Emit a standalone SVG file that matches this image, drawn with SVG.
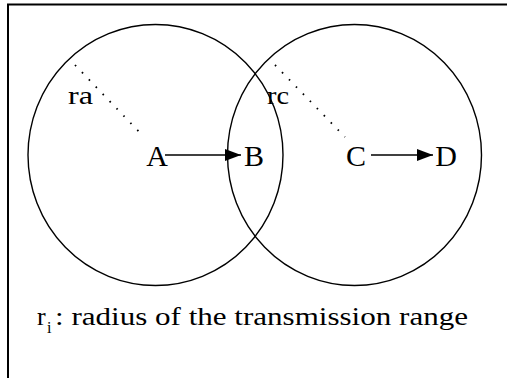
<svg xmlns="http://www.w3.org/2000/svg" width="507" height="378" viewBox="0 0 507 378">
<style>
.t{font-family:"Liberation Serif","Times New Roman",serif;fill:#000}
.c{fill:none;stroke:#000;stroke-width:1.4}
.d{stroke:#000;stroke-width:1.8;stroke-dasharray:1.6 8.4;fill:none}
.e{stroke:#000;stroke-width:1.6;fill:none}
</style>
<defs>
<marker id="ah" viewBox="0 0 16 12" refX="16" refY="6" markerWidth="16" markerHeight="12" markerUnits="userSpaceOnUse" orient="auto">
<path d="M0,0 L16,6 L0,12 z" fill="#000"/>
</marker>
</defs>
<rect width="507" height="378" fill="#fff"/>
<path d="M8,378 V4.5 H507" fill="none" stroke="#000" stroke-width="2"/>
<g id="rangeA">
<ellipse class="c" cx="155.5" cy="155" rx="127.5" ry="130.5"/>
<path class="d" d="M75,65 L144,137"/>
<text class="t" x="68" y="104" font-size="25" textLength="25" lengthAdjust="spacingAndGlyphs">ra</text>
</g>
<g id="rangeC">
<ellipse class="c" cx="354.5" cy="155" rx="127" ry="130.5"/>
<path class="d" d="M275,65 L345,137"/>
<text class="t" x="267" y="104" font-size="25" textLength="22" lengthAdjust="spacingAndGlyphs">rc</text>
</g>
<g id="A"><text class="t" x="157" y="166" font-size="30" text-anchor="middle">A</text></g>
<g id="B"><text class="t" x="254" y="166" font-size="30" text-anchor="middle">B</text></g>
<g id="C"><text class="t" x="356" y="166" font-size="30" text-anchor="middle">C</text></g>
<g id="D"><text class="t" x="446" y="166" font-size="30" text-anchor="middle">D</text></g>
<g id="connectors">
<path class="e" d="M165,155 H241" marker-end="url(#ah)"/>
<path class="e" d="M371,155 H433" marker-end="url(#ah)"/>
</g>
<g id="legend">
<text class="t" x="37" y="325" font-size="26">r</text>
<text class="t" x="47" y="333" font-size="16">i</text>
<text class="t" x="55" y="325" font-size="26" textLength="413" lengthAdjust="spacingAndGlyphs">: radius of the transmission range</text>
</g>
</svg>
